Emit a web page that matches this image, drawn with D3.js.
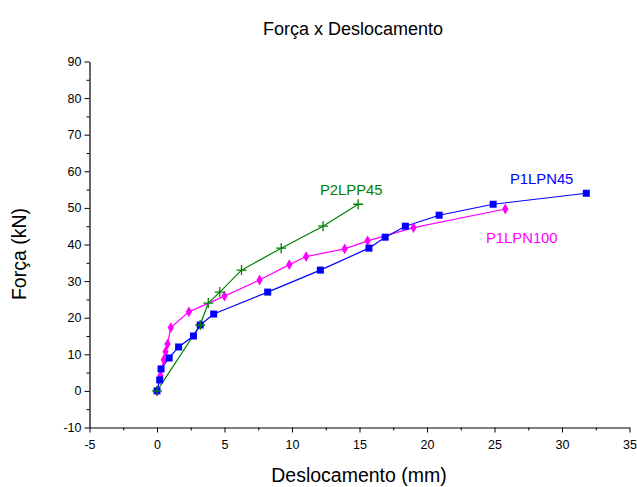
<!DOCTYPE html>
<html>
<head>
<meta charset="utf-8">
<script src="https://cdn.jsdelivr.net/npm/d3@7"></script>
<style>
  html, body { margin: 0; padding: 0; background: #fff; }
  text { font-family: Arial, "Liberation Sans", sans-serif; }
</style>
</head>
<body>
<svg id="chart" width="637" height="487"></svg>
<script>
// Load–displacement test results (displacement in mm, force in kN)
const p1lpn45X = [0, 0.2, 0.3, 0.9, 1.6, 2.7, 3.2, 4.2, 8.2, 12.1, 15.7, 16.9, 18.4, 20.9, 24.9, 31.8];
const p1lpn45Y = [0, 3, 6, 9, 12, 15, 18, 21, 27, 33, 39, 42, 45, 48, 51, 54];

const p1lpn100X = [0, 0.26, 0.5, 0.63, 0.78, 1.02, 2.36, 5.0, 7.6, 9.8, 11.05, 13.9, 15.6, 19.0, 25.8];
const p1lpn100Y = [0, 4.2, 8.5, 10.7, 12.8, 17.3, 21.6, 25.9, 30.3, 34.5, 36.7, 38.8, 41.0, 44.6, 49.7];

const p2lpp45X = [0, 3.2, 3.8, 4.65, 6.26, 9.2, 12.3, 14.9];
const p2lpp45Y = [0, 18, 24, 27, 33, 39, 45, 51];

const xTicks = [-5, 0, 5, 10, 15, 20, 25, 30, 35];
const yTicks = [-10, 0, 10, 20, 30, 40, 50, 60, 70, 80, 90];

const seriesNames = ["P1LPN45", "P1LPN100", "P2LPP45"];
const seriesColors = ["#0000ff", "#ff00ff", "#008000"];

const svg = d3.select("#chart");

const x = d3.scaleLinear().domain([-5, 35]).range([89.5, 629.5]);
const y = d3.scaleLinear().domain([-10, 90]).range([427.5, 61.5]);

// Axes: major ticks plus unlabeled minor ticks halfway between
const xMinor = d3.range(-2.5, 35, 5);
const yMinor = d3.range(-5, 90, 10);
const plain = d => String(d);

const gx = svg.append("g").attr("transform", `translate(0,${y(-10)})`);
gx.call(d3.axisBottom(x).tickValues(xTicks).tickFormat(plain).tickSize(5).tickSizeOuter(0));
gx.append("g").call(d3.axisBottom(x).tickValues(xMinor).tickFormat("").tickSize(3).tickSizeOuter(0))
  .select(".domain").remove();

const gy = svg.append("g").attr("transform", `translate(${x(-5)},0)`);
gy.call(d3.axisLeft(y).tickValues(yTicks).tickFormat(plain).tickSize(5).tickSizeOuter(0));
gy.append("g").call(d3.axisLeft(y).tickValues(yMinor).tickFormat("").tickSize(3).tickSizeOuter(0))
  .select(".domain").remove();

svg.selectAll(".domain").attr("stroke", "#000").attr("stroke-width", 1.2);
svg.selectAll(".tick line").attr("stroke", "#000").attr("stroke-width", 1);
svg.selectAll(".tick text").attr("font-size", 12.5).attr("fill", "#000")
  .attr("font-family", "Arial, 'Liberation Sans', sans-serif");
gx.selectAll(".tick text").attr("dy", "1.05em");

// Titles
svg.append("text").attr("x", 353).attr("y", 35).attr("text-anchor", "middle")
  .attr("font-size", 18).text("Força x Deslocamento");
svg.append("text").attr("x", 359).attr("y", 482).attr("text-anchor", "middle")
  .attr("font-size", 19.5).text("Deslocamento (mm)");
svg.append("text").attr("transform", "translate(26,254) rotate(-90)").attr("text-anchor", "middle")
  .attr("font-size", 19.5).text("Força (kN)");

const line = d3.line().x(d => x(d[0])).y(d => y(d[1]));
const zip = (xs, ys) => xs.map((v, i) => [v, ys[i]]);

const dBlue = zip(p1lpn45X, p1lpn45Y);
const dMag = zip(p1lpn100X, p1lpn100Y);
const dGreen = zip(p2lpp45X, p2lpp45Y);

const plot = svg.append("g");

// Lines
plot.append("path").datum(dGreen).attr("d", line).attr("fill", "none")
  .attr("stroke", seriesColors[2]).attr("stroke-width", 1.2);
plot.append("path").datum(dMag).attr("d", line).attr("fill", "none")
  .attr("stroke", seriesColors[1]).attr("stroke-width", 1.2);
plot.append("path").datum(dBlue).attr("d", line).attr("fill", "none")
  .attr("stroke", seriesColors[0]).attr("stroke-width", 1.2);

// Markers
plot.append("g").selectAll("path").data(dMag).join("path")
  .attr("transform", d => `translate(${x(d[0])},${y(d[1])})`)
  .attr("d", d3.symbol(d3.symbolDiamond, 34))
  .attr("fill", seriesColors[1]);

plot.append("g").selectAll("rect").data(dBlue).join("rect")
  .attr("x", d => x(d[0]) - 3.5).attr("y", d => y(d[1]) - 3.5)
  .attr("width", 7).attr("height", 7)
  .attr("fill", seriesColors[0]);

plot.append("g").selectAll("path").data(dGreen).join("path")
  .attr("transform", d => `translate(${x(d[0])},${y(d[1])})`)
  .attr("d", "M-5,0H5M0,-5V5")
  .attr("stroke", seriesColors[2]).attr("stroke-width", 1.3).attr("fill", "none");

// Series labels
svg.append("text").attr("x", 320).attr("y", 195)
  .attr("font-size", 14.8).attr("fill", seriesColors[2]).text(seriesNames[2]);
svg.append("text").attr("x", 510).attr("y", 183.5)
  .attr("font-size", 14.8).attr("fill", seriesColors[0]).text(seriesNames[0]);
svg.append("text").attr("x", 486).attr("y", 242.5)
  .attr("font-size", 14.8).attr("fill", seriesColors[1]).text(seriesNames[1]);
</script>
</body>
</html>
